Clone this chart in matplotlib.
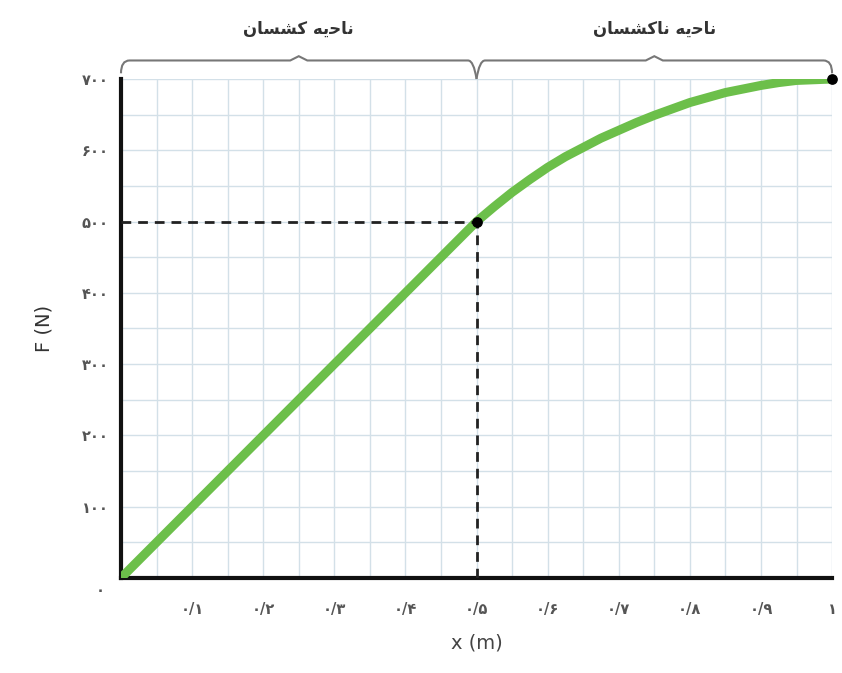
import matplotlib.pyplot as plt
from matplotlib.path import Path
from matplotlib.patches import PathPatch

# داده‌های نمودار نیرو - جابه‌جایی
x_vals = [0.0, 0.1, 0.2, 0.3, 0.4, 0.5, 0.525, 0.55, 0.575, 0.6, 0.625, 0.65, 0.675,
          0.7, 0.725, 0.75, 0.775, 0.8, 0.825, 0.85, 0.875, 0.9, 0.925, 0.95, 0.975, 1.0]
f_vals = [0, 100, 200, 300, 400, 500, 521, 541, 559, 576, 591, 604, 617,
          628, 639, 649, 658, 667, 674, 681, 686, 691, 695, 698, 699, 700]

x_ticks = [0.1, 0.2, 0.3, 0.4, 0.5, 0.6, 0.7, 0.8, 0.9, 1.0]
y_ticks = [100, 200, 300, 400, 500, 600, 700]

# نقطه حد کشسانی و نقطه پایانی
limit_x, limit_f = 0.5, 500
end_x, end_f = 1.0, 700

# ناحیه‌ها (متن با شکل‌های نمایشی عربی، به ترتیب دیداری)
regions = [(0.0, 0.5), (0.5, 1.0)]
region_names = ["ناحیه کشسان", "ناحیه ناکشسان"]
region_shaped = [
    "\ufee5\ufe8e\ufeb4\ufeb8\ufb90 \ufeea\ufbfe\ufea3\ufe8e\ufee7",
    "\ufee5\ufe8e\ufeb4\ufeb8\ufb90\ufe8e\ufee7 \ufeea\ufbfe\ufea3\ufe8e\ufee7",
]

FA = str.maketrans("0123456789.", "۰۱۲۳۴۵۶۷۸۹/")


def fa(s):
    return s.translate(FA)


fig = plt.figure(figsize=(8.42, 6.73), dpi=100)
ax = fig.add_axes([0.1437, 0.1412, 0.8445, 0.7414])

ax.set_xlim(0, 1)
ax.set_ylim(0, 700)

# شبکه
grid_c = "#d3e0e8"
for i in range(1, 21):
    ax.axvline(i * 0.05, color=grid_c, lw=1.0, zorder=0)
for j in range(1, 15):
    ax.axhline(j * 50, color=grid_c, lw=1.0, zorder=0)

ax.plot(x_vals, f_vals, color="#6cbf4a", lw=6.5, solid_capstyle="butt",
        solid_joinstyle="round", zorder=3)

ax.plot([0, limit_x], [limit_f, limit_f], color="#222222", lw=2, ls=(0, (3.5, 2.5)), zorder=4)
ax.plot([limit_x, limit_x], [0, limit_f], color="#222222", lw=2, ls=(0, (3.5, 2.5)), zorder=4)
ax.scatter([limit_x, end_x], [limit_f, end_f], s=45, color="black", zorder=5, clip_on=False)

for s in ["top", "right"]:
    ax.spines[s].set_visible(False)
for s in ["left", "bottom"]:
    ax.spines[s].set_linewidth(3)
    ax.spines[s].set_color("#111111")

ax.set_xticks(x_ticks)
ax.set_xticklabels([fa("1") if t == 1 else fa(f"0.{int(round(t * 10))}") for t in x_ticks])
ax.set_yticks(y_ticks)
ax.set_yticklabels([fa(str(t)) for t in y_ticks])
ax.tick_params(axis="x", length=0, pad=17, labelsize=10.5, labelcolor="#555555")
ax.tick_params(axis="y", length=0, pad=9, labelsize=10.5, labelcolor="#555555")
for lab in ax.get_xticklabels() + ax.get_yticklabels():
    lab.set_fontweight("bold")

# برچسب مبدأ
ax.annotate(fa("0"), (0, 0), xytext=(-15, -9), textcoords="offset points",
            ha="center", va="center", fontsize=10.5, color="#555555", fontweight="bold")

ax.set_xlabel("x (m)", fontsize=14, color="#444444", labelpad=12)
ax.set_ylabel("F (N)", fontsize=14, color="#333333", labelpad=20)

# آکولادهای بالای نمودار
trans = ax.transData
y0, yb = 708, 726
for (a, b), name in zip(regions, region_shaped):
    m = (a + b) / 2
    w = 0.012
    verts = [(a, y0), (a, yb), (a + w, yb),
             (m - w, yb), (m, yb + 6), (m + w, yb), (b - w, yb), (b, yb), (b, y0)]
    if a != 0:
        verts[0] = (a, 700)
        verts[1] = (a + 0.004, yb)
    if b != 1:
        verts[-1] = (b, 700)
        verts[-2] = (b - 0.004, yb)
    codes = [Path.MOVETO, Path.CURVE3, Path.CURVE3, Path.LINETO, Path.LINETO, Path.LINETO,
             Path.LINETO, Path.CURVE3, Path.CURVE3]
    ax.add_patch(PathPatch(Path(verts, codes), fill=False, ec="#777777", lw=1.5,
                           clip_on=False, transform=trans))
    ax.text(m, 770, name, ha="center", va="center", fontsize=12, fontweight="bold",
            color="#333333", clip_on=False)

fig.savefig("out.png", dpi=100)
